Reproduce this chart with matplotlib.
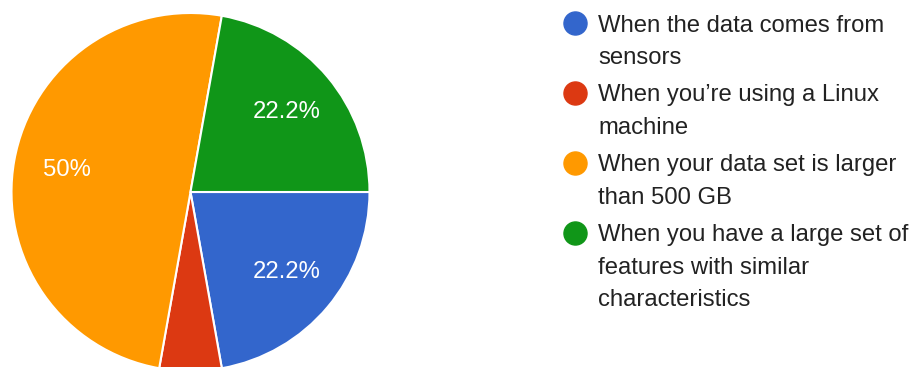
import matplotlib.pyplot as plt

plt.rcParams['font.family'] = ['Liberation Sans', 'DejaVu Sans']

# data
labels = ["When the data comes from\nsensors",
          "When you\u2019re using a Linux\nmachine",
          "When your data set is larger\nthan 500 GB",
          "When you have a large set of\nfeatures with similar\ncharacteristics"]
shares = [22.2, 5.6, 50, 22.2]
colors = ["#3366cc", "#dc3912", "#ff9900", "#109618"]


def pct_label(p):
    if p < 10:
        return ""
    if abs(p - round(p)) < 0.05:
        return f"{round(p):.0f}%"
    return f"{p:.1f}%"


W, H = 919, 367
fig = plt.figure(figsize=(W / 100, H / 100), dpi=100)
ax = fig.add_axes([(190.5 - 179) / W, (H - 192 - 179) / H, 358 / W, 358 / H])

wedges, texts, autotexts = ax.pie(shares, colors=colors, startangle=0, counterclock=False,
                                  autopct=pct_label, pctdistance=0.7,
                                  wedgeprops=dict(edgecolor="white", linewidth=1.5),
                                  textprops=dict(color="white", fontsize=17.2))
ax.set_xlim(-1, 1)
ax.set_ylim(-1, 1)
ax.set_aspect("equal")

# legend drawn in pixel coords, marker lined up with first text line
lax = fig.add_axes([0, 0, 1, 1], zorder=-1)
lax.set_xlim(0, W)
lax.set_ylim(H, 0)
lax.axis("off")
y = 23
for lab, c in zip(labels, colors):
    lax.plot(574.5, y, marker="o", markersize=16.6, color=c, linestyle="")
    lines = lab.split("\n")
    for i, line in enumerate(lines):
        lax.text(598, y + 8.5 + i * 32, line, fontsize=17.2, color="#222222",
                 ha="left", va="baseline")
    y += 32 * len(lines) + 6

plt.savefig("out.png", dpi=100)
plt.close()
